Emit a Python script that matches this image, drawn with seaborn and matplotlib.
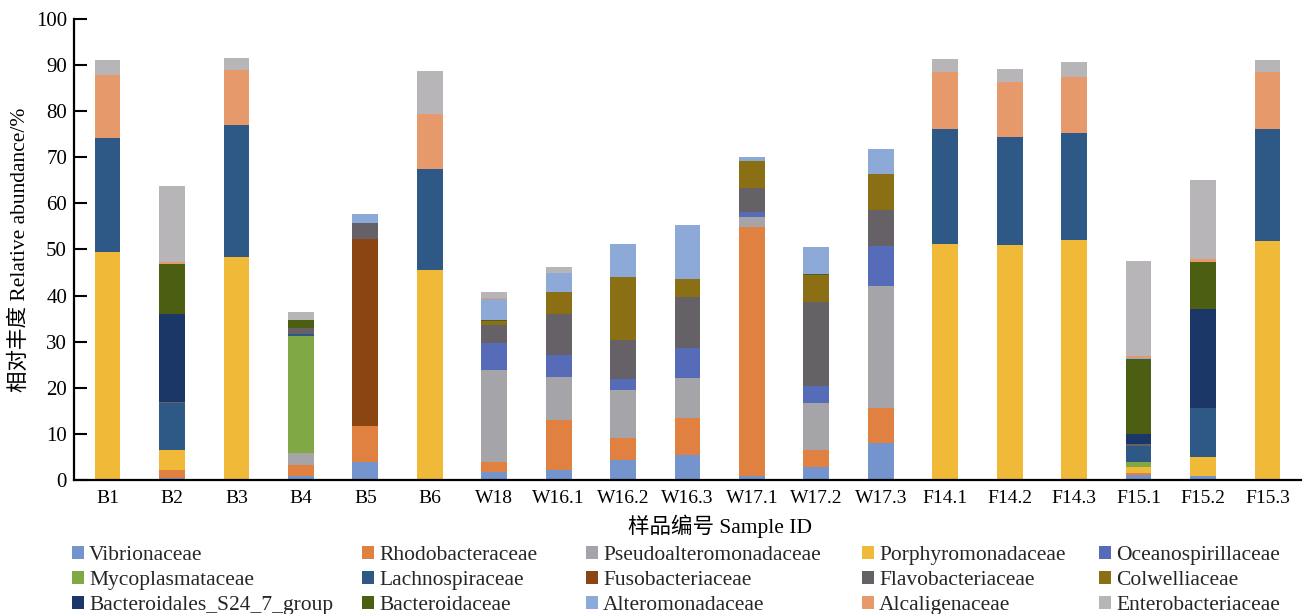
import numpy as np
import matplotlib
matplotlib.use("Agg")
import matplotlib.pyplot as plt
from matplotlib.patches import Patch
import seaborn as sns

# Sample IDs along the x axis
samples = ["B1", "B2", "B3", "B4", "B5", "B6", "W18", "W16.1", "W16.2", "W16.3",
           "W17.1", "W17.2", "W17.3", "F14.1", "F14.2", "F14.3", "F15.1", "F15.2", "F15.3"]

# Relative abundance (%) of each family per sample, stacked bottom -> top
vibrionaceae       = [0.0, 0.4, 0.0, 0.9, 3.8, 0.0, 1.8, 2.1, 4.3, 5.5, 0.9, 2.9, 8.1, 0.0, 0.0, 0.0, 1.0, 0.9, 0.0]
rhodobacteraceae   = [0.0, 1.8, 0.0, 2.3, 8.0, 0.0, 2.0, 10.9, 4.9, 8.0, 54.0, 3.7, 7.5, 0.0, 0.0, 0.0, 0.5, 0.0, 0.0]
pseudoalteromonad  = [0.0, 0.0, 0.0, 2.6, 0.0, 0.0, 20.0, 9.3, 10.3, 8.7, 2.1, 10.1, 26.5, 0.0, 0.0, 0.0, 0.0, 0.0, 0.0]
porphyromonad      = [49.5, 4.2, 48.3, 0.0, 0.0, 45.6, 0.0, 0.0, 0.0, 0.0, 0.0, 0.0, 0.0, 51.2, 51.0, 52.1, 1.3, 4.0, 51.9]
oceanospirillaceae = [0.0, 0.0, 0.0, 0.0, 0.0, 0.0, 5.9, 4.9, 2.4, 6.5, 1.2, 3.6, 8.7, 0.0, 0.0, 0.0, 0.0, 0.0, 0.0]
mycoplasmataceae   = [0.0, 0.0, 0.0, 25.5, 0.0, 0.0, 0.0, 0.0, 0.0, 0.0, 0.0, 0.0, 0.0, 0.0, 0.0, 0.0, 1.0, 0.0, 0.0]
lachnospiraceae    = [24.6, 10.3, 28.7, 0.4, 0.0, 21.8, 0.0, 0.0, 0.0, 0.0, 0.0, 0.0, 0.0, 24.9, 23.5, 23.1, 3.6, 10.7, 24.3]
fusobacteriaceae   = [0.0, 0.0, 0.0, 0.0, 40.4, 0.0, 0.0, 0.0, 0.0, 0.0, 0.0, 0.0, 0.0, 0.0, 0.0, 0.0, 0.0, 0.0, 0.0]
flavobacteriaceae  = [0.0, 0.2, 0.0, 1.2, 3.5, 0.0, 4.0, 8.9, 8.5, 10.9, 5.2, 18.4, 7.7, 0.0, 0.0, 0.0, 0.4, 0.0, 0.0]
colwelliaceae      = [0.0, 0.0, 0.0, 0.0, 0.0, 0.0, 0.8, 4.6, 13.6, 3.9, 5.8, 5.8, 7.9, 0.0, 0.0, 0.0, 0.0, 0.0, 0.0]
s24_7_group        = [0.0, 19.2, 0.0, 0.0, 0.0, 0.0, 0.0, 0.0, 0.0, 0.0, 0.0, 0.0, 0.0, 0.0, 0.0, 0.0, 2.1, 21.4, 0.0]
bacteroidaceae     = [0.0, 10.7, 0.0, 1.8, 0.0, 0.0, 0.3, 0.0, 0.0, 0.0, 0.0, 0.2, 0.0, 0.0, 0.0, 0.0, 16.3, 10.3, 0.0]
alteromonadaceae   = [0.0, 0.0, 0.0, 0.0, 2.1, 0.0, 4.4, 4.1, 7.3, 11.9, 0.8, 5.8, 5.5, 0.0, 0.0, 0.0, 0.3, 0.0, 0.0]
alcaligenaceae     = [13.8, 0.5, 12.0, 0.0, 0.0, 12.0, 0.2, 0.0, 0.0, 0.0, 0.0, 0.0, 0.0, 12.5, 11.8, 12.2, 0.5, 0.6, 12.4]
enterobacteriaceae = [3.1, 16.5, 2.5, 1.7, 0.0, 9.3, 1.3, 1.4, 0.0, 0.0, 0.0, 0.0, 0.0, 2.7, 2.9, 3.3, 20.5, 17.1, 2.6]

families = ["Vibrionaceae", "Rhodobacteraceae", "Pseudoalteromonadaceae", "Porphyromonadaceae",
            "Oceanospirillaceae", "Mycoplasmataceae", "Lachnospiraceae", "Fusobacteriaceae",
            "Flavobacteriaceae", "Colwelliaceae", "Bacteroidales_S24_7_group", "Bacteroidaceae",
            "Alteromonadaceae", "Alcaligenaceae", "Enterobacteriaceae"]
series = [vibrionaceae, rhodobacteraceae, pseudoalteromonad, porphyromonad, oceanospirillaceae,
          mycoplasmataceae, lachnospiraceae, fusobacteriaceae, flavobacteriaceae, colwelliaceae,
          s24_7_group, bacteroidaceae, alteromonadaceae, alcaligenaceae, enterobacteriaceae]
colors = ["#7394CC", "#E08142", "#A5A4A8", "#F0BA38", "#566CB8",
          "#80A946", "#2E5987", "#8B4512", "#656166", "#8B6F14",
          "#1B3768", "#4B5E12", "#8CA9D8", "#E6996B", "#B7B5B8"]

sns.set_theme(style="white")
plt.rcParams["font.family"] = ["Liberation Serif", "Noto Sans CJK SC"]

W, H = 1306, 614
fig = plt.figure(figsize=(W / 100, H / 100), dpi=100)
ax = fig.add_axes([74 / W, (H - 480) / H, (1301 - 74) / W, (480 - 19) / H])

bottom = np.zeros(len(samples))
for name, vals, col in zip(families, series, colors):
    vals = np.asarray(vals, dtype=float)
    sns.barplot(x=samples, y=vals, bottom=bottom, color=col, saturation=1,
                width=0.4, linewidth=0, ax=ax, errorbar=None)
    bottom += vals

ax.set_xlim(-0.52, 18.52)
ax.set_ylim(0, 100)
ax.set_yticks(np.arange(0, 101, 10))
for s in ["top", "right"]:
    ax.spines[s].set_visible(False)
for s in ["left", "bottom"]:
    ax.spines[s].set_color("black")
    ax.spines[s].set_linewidth(1.6)
ax.tick_params(axis="y", direction="in", length=9, width=1.5, colors="black",
               labelsize=15, pad=5, left=True)
ax.tick_params(axis="x", length=0, labelsize=14, pad=7, colors="black")
ax.set_ylabel("相对丰度 Relative abundance/%", fontsize=15.5, labelpad=4, color="black")
ax.set_xlabel("样品编号 Sample ID", fontsize=15.5, labelpad=2, color="black")
ax.xaxis.set_label_coords((720 - 74) / (1301 - 74), -0.075)
ax.grid(False)

# five legend columns, three entries each, filled row by row
col_x = [72, 362, 586, 862, 1099]
ncol = 5
for c, x in enumerate(col_x):
    idx = [c, c + ncol, c + 2 * ncol]
    handles = [Patch(facecolor=colors[i], edgecolor="none") for i in idx]
    labels = [families[i] for i in idx]
    fig.legend(handles, labels, loc="upper left",
               bbox_to_anchor=(x / W, 1 - 546 / H), frameon=False,
               fontsize=15.5, handlelength=0.55, handleheight=0.55, handletextpad=0.25,
               labelspacing=0.27, borderpad=0, borderaxespad=0)

fig.savefig("out.png", dpi=100)
